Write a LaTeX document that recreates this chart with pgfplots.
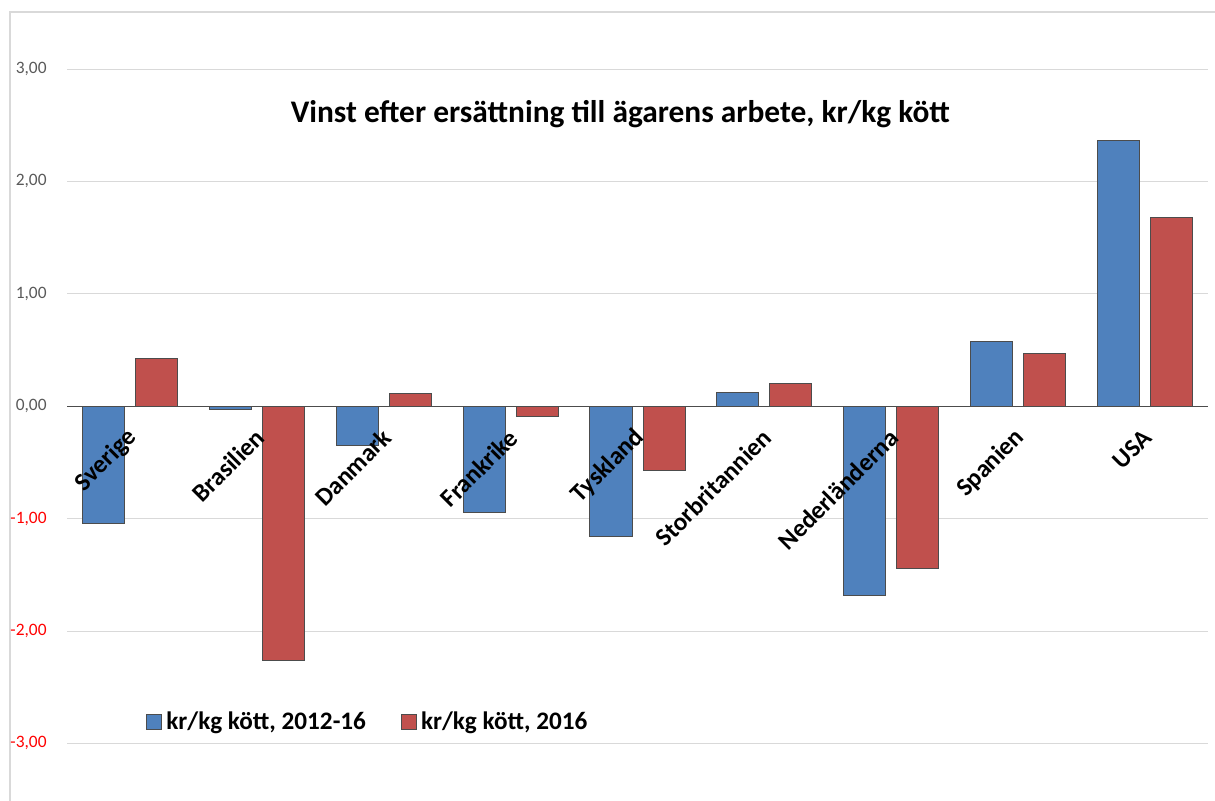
\documentclass[border=0pt]{standalone}
\usepackage{fontspec}
\setmainfont{Carlito}
\usepackage{pgfplots}
\usepackage{pgfplotstable}
\pgfplotsset{compat=1.18}

\definecolor{exblue}{HTML}{4F81BD}
\definecolor{exred}{HTML}{C0504D}
\definecolor{gridgray}{HTML}{D9D9D9}
\definecolor{labgray}{HTML}{595959}

\pgfplotsset{
    frame/.style={
        at={(0pt,0pt)}, anchor=south west,
        scale only axis,
        width=570.5pt, height=393.4pt,
        xmin=-0.5, xmax=8.5,
        ymin=-3.5, ymax=3.5,
        axis line style={draw=none},
        tick style={draw=none},
    },
}

% values in kr/kg
\pgfplotstableread{
x  v
0  -1.04
1  -0.03
2  -0.35
3  -0.95
4  -1.16
5   0.12
6  -1.68
7   0.58
8   2.36
}\periodA
\pgfplotstableread{
x  v
0   0.42
1  -2.26
2   0.11
3  -0.09
4  -0.57
5   0.20
6  -1.44
7   0.47
8   1.68
}\periodB

\begin{document}
\begin{tikzpicture}
\useasboundingbox (-33.5pt,-0.2pt) rectangle (574pt,399.8pt);
\draw[gridgray, line width=0.6pt] (-28.5pt,-5pt) -- (-28.5pt,393.8pt) -- (590pt,393.8pt);
\begin{axis}[
    frame,
    ybar, bar width=21pt,
    ytick={-3,-2,-1,0,1,2,3},
    yticklabels={{\color{red}-3,00},{\color{red}-2,00},{\color{red}-1,00},{0,00},{1,00},{2,00},{3,00}},
    yticklabel style={font=\fontsize{8.7}{10}\selectfont, text=labgray, anchor=east, inner sep=0pt, xshift=-10pt},
    ymajorgrids, grid style={gridgray, line width=0.5pt},
    extra y ticks={0}, extra y tick labels={},
    extra y tick style={grid style={black!70, line width=0.6pt}},
    xtick=\empty,
    title={Vinst efter ersättning till ägarens arbete, kr/kg kött},
    title style={at={(rel axis cs:0.485,0.856)}, anchor=center, yshift=0pt,
        font=\bfseries\fontsize{15.7}{18}\selectfont},
    legend columns=2,
    legend style={at={(axis cs:0.123,-2.81)}, anchor=west, draw=none, fill=none,
        inner xsep=0pt, inner ysep=0pt,
        font=\bfseries\fontsize{12.6}{14}\selectfont,
        /tikz/every even column/.append style={column sep=15.5pt}},
    legend image code/.code={\draw[#1, bar shift=0pt] (0pt,-3.75pt) rectangle (7.5pt,3.75pt);},
]
\addplot[fill=exblue, draw=black!70, line width=0.5pt, bar shift=-13.25pt] table[x=x, y=v] {\periodA};
\addplot[fill=exred, draw=black!70, line width=0.5pt, bar shift=13.25pt] table[x=x, y=v] {\periodB};
\legend{kr/kg kött{,} 2012-16, kr/kg kött{,} 2016}
\end{axis}
% category names, set over the bars
\begin{axis}[
    frame,
    ytick=\empty,
    xtick={0,1,2,3,4,5,6,7,8},
    xticklabels={Sverige,Brasilien,Danmark,Frankrike,Tyskland,Storbritannien,Nederländerna,Spanien,USA},
    xticklabel style={yshift=183pt, xshift=1.5pt, rotate=45, anchor=east, inner sep=0pt,
        font=\bfseries\fontsize{12.6}{14}\selectfont},
]
\end{axis}
\end{tikzpicture}
\end{document}
